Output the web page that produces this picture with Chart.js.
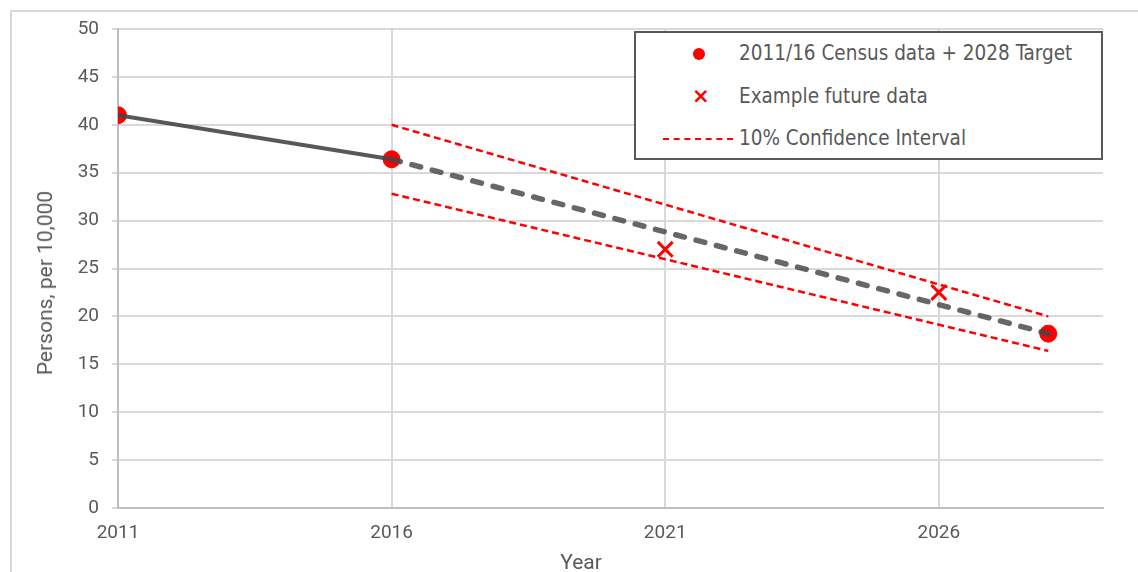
<!DOCTYPE html>
<html>
<head>
<meta charset="utf-8">
<script src="https://cdn.jsdelivr.net/npm/chart.js@4/dist/chart.umd.min.js"></script>
<style>
    html, body { margin: 0; padding: 0; background: #fff; overflow: hidden; }
    #wrap { position: relative; width: 1138px; height: 572px; }
    #frame {
        position: absolute; left: 10px; top: 10px; width: 1200px; height: 700px;
        border: 2px solid #d9d9d9; box-sizing: border-box;
    }
    #chart { position: absolute; left: 0; top: 0; }
    .axisTitle {
        position: absolute; white-space: nowrap; line-height: 24px; height: 24px;
        font: 21px Roboto, sans-serif; color: #595959;
    }
    #xTitle { left: 581px; top: 550px; transform: translateX(-50%); }
    #yTitle { left: 45px; top: 283px; transform: translate(-50%, -50%) rotate(-90deg); }
    #legend {
        position: absolute; left: 634px; top: 31px; width: 469px; height: 129px;
        border: 2px solid #595959; background: #fff; box-sizing: border-box;
        font: 20.5px "DejaVu Sans Condensed", "DejaVu Sans", sans-serif; color: #595959;
    }
    .row { position: absolute; left: 0; height: 24px; line-height: 24px; }
    .row span.txt { position: absolute; left: 103px; white-space: nowrap; }
    .sym { position: absolute; }
</style>
</head>
<body>
<div id="wrap">
    <div id="frame"></div>
    <canvas id="chart" width="1138" height="572"></canvas>
    <div id="xTitle" class="axisTitle">Year</div>
    <div id="yTitle" class="axisTitle">Persons, per 10,000</div>
    <div id="legend">
        <div class="row" style="top: 8px;">
            <div class="sym" style="left: 57px; top: 7px; width: 12px; height: 12px; border-radius: 50%; background: #ff0000;"></div>
            <span class="txt">2011/16 Census data + 2028 Target</span>
        </div>
        <div class="row" style="top: 51px;">
            <div class="sym" style="left: 56px; top: 0; color: #ff0000; font: bold 21px 'DejaVu Sans', sans-serif;">×</div>
            <span class="txt">Example future data</span>
        </div>
        <div class="row" style="top: 93px;">
            <div class="sym" style="left: 27px; top: 12px; width: 70px; border-top: 2px dashed #ff0000;"></div>
            <span class="txt">10% Confidence Interval</span>
        </div>
    </div>
</div>
<script>
    // values
    const xTicks = [2011, 2016, 2021, 2026];
    const censusYears = [2011, 2016, 2028];
    const censusValues = [41.0, 36.4, 18.2];
    const pastYears = [2011, 2016];
    const pastValues = [41.0, 36.4];
    const targetYears = [2016, 2028];
    const targetValues = [36.4, 18.2];
    const ciUpper = [40.0, 20.0];
    const ciLower = [32.8, 16.4];
    const exampleYears = [2021, 2026];
    const exampleValues = [27.0, 22.5];

    const pts = (xs, ys) => xs.map((x, i) => ({ x: x, y: ys[i] }));

    const ctx = document.getElementById('chart').getContext('2d');
    new Chart(ctx, {
        type: 'scatter',
        data: {
            datasets: [
                {
                    label: 'Trend 2011-2016',
                    data: pts(pastYears, pastValues),
                    showLine: true,
                    borderColor: 'rgba(70, 70, 70, 0.9)',
                    borderWidth: 4,
                    pointRadius: 0,
                    order: 0
                },
                {
                    label: 'Target trend',
                    data: pts(targetYears, targetValues),
                    showLine: true,
                    borderColor: 'rgba(70, 70, 70, 0.82)',
                    borderWidth: 5.5,
                    borderDash: [9, 12],
                    borderCapStyle: 'round',
                    pointRadius: 0,
                    order: 0
                },
                {
                    label: 'CI upper',
                    data: pts(targetYears, ciUpper),
                    showLine: true,
                    borderColor: '#ff0000',
                    borderWidth: 2.5,
                    borderDash: [7, 4],
                    pointRadius: 0,
                    order: 1
                },
                {
                    label: 'CI lower',
                    data: pts(targetYears, ciLower),
                    showLine: true,
                    borderColor: '#ff0000',
                    borderWidth: 2.5,
                    borderDash: [7, 4],
                    pointRadius: 0,
                    order: 1
                },
                {
                    label: '2011/16 Census data + 2028 Target',
                    data: pts(censusYears, censusValues),
                    backgroundColor: '#ff0000',
                    borderColor: '#ff0000',
                    pointRadius: 8.5,
                    pointHoverRadius: 8.5,
                    order: 2
                },
                {
                    label: 'Example future data',
                    data: pts(exampleYears, exampleValues),
                    pointStyle: 'crossRot',
                    borderColor: '#ff0000',
                    borderWidth: 3,
                    pointRadius: 10.5,
                    pointHoverRadius: 10.5,
                    order: 2
                }
            ]
        },
        options: {
            responsive: false,
            animation: false,
            layout: { padding: { left: 0, right: 35, top: 29, bottom: 0 } },
            plugins: {
                legend: { display: false },
                tooltip: { enabled: false }
            },
            scales: {
                x: {
                    type: 'linear',
                    min: 2011,
                    max: 2029,
                    afterBuildTicks: axis => { axis.ticks = xTicks.map(v => ({ value: v })); },
                    afterFit: scale => { scale.height = 64; },
                    grid: { color: '#d9d9d9', lineWidth: 2, drawTicks: false },
                    border: { color: '#bfbfbf', width: 2 },
                    ticks: {
                        color: '#595959',
                        font: { family: 'Roboto', size: 19 },
                        padding: 14,
                        maxRotation: 0,
                        callback: v => String(v)
                    }
                },
                y: {
                    min: 0,
                    max: 50,
                    afterFit: scale => { scale.width = 118; },
                    grid: { color: '#d9d9d9', lineWidth: 2, tickLength: 6 },
                    border: { color: '#bfbfbf', width: 2 },
                    ticks: {
                        stepSize: 5,
                        color: '#595959',
                        font: { family: 'Roboto', size: 19 },
                        padding: 13
                    }
                }
            }
        }
    });
</script>
</body>
</html>
